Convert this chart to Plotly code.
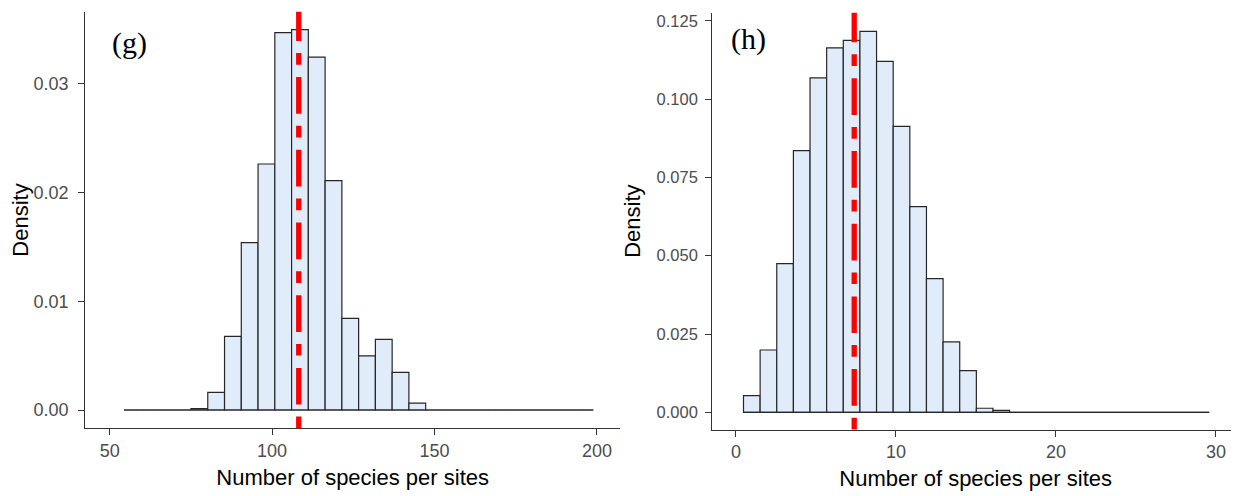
import plotly.graph_objects as go

# ---- data ----
g_bin_start = 54.4
g_bin_width = 5.16
g_density = [0, 0, 0, 0, 0.00012, 0.00163, 0.00678, 0.01539, 0.02263, 0.03471,
             0.03499, 0.03247, 0.0211, 0.00843, 0.00497, 0.0065, 0.00347, 0.00064,
             0, 0, 0, 0, 0, 0, 0, 0, 0, 0]
g_mean = 108.2

h_bin_start = 0.47
h_bin_width = 1.0396
h_density = [0.00532, 0.0199, 0.04747, 0.08355, 0.10675, 0.11633, 0.11877, 0.12165,
             0.11207, 0.09132, 0.06567, 0.04268, 0.02246, 0.0133, 0.0013, 0.0006,
             0, 0, 0, 0, 0, 0, 0, 0, 0, 0, 0, 0]
h_mean = 7.39

g_xticks = [50, 100, 150, 200]
g_yticks = [0, 0.01, 0.02, 0.03]
h_xticks = [0, 10, 20, 30]
h_yticks = [0, 0.025, 0.05, 0.075, 0.1, 0.125]

panel_labels = ["(g)", "(h)"]
x_title = "Number of species per sites"
y_title = "Density"

# ---- styles ----
FILL = "#E1ECFB"
EDGE = "#262626"
FONT = "Liberation Sans, Arial, sans-serif"
W, H = 1231, 488  # page adds an 8px body margin

fig = go.Figure()


def add_hist(start, width, dens, xa, ya):
    centers = [start + width * (i + 0.5) for i in range(len(dens))]
    fig.add_trace(go.Scatter(
        x=[start, start + width * len(dens)], y=[0, 0], mode="lines",
        line=dict(color=EDGE, width=1.2), xaxis=xa, yaxis=ya, hoverinfo="skip"))
    fig.add_trace(go.Bar(
        x=centers, y=dens, width=[width] * len(dens),
        marker=dict(color=FILL, line=dict(color=EDGE, width=1.2)),
        xaxis=xa, yaxis=ya))


add_hist(g_bin_start, g_bin_width, g_density, "x", "y")
add_hist(h_bin_start, h_bin_width, h_density, "x2", "y2")

dash = "11.7px,12px,36.7px,12.3px"
for xref, yref, xv in [("x", "y domain", g_mean), ("x2", "y2 domain", h_mean)]:
    fig.add_shape(type="line", xref=xref, yref=yref, x0=xv, x1=xv, y0=0, y1=1,
                  line=dict(color="red", width=5.3, dash=dash), layer="above")

axis_common = dict(showline=True, linecolor="#333333", linewidth=1.3,
                   ticks="outside", tickcolor="#333333", ticklen=6, tickwidth=1.2,
                   showgrid=False, zeroline=False, automargin=False,
                   tickfont=dict(family=FONT, size=18, color="#4D4D4D"))

title_font = dict(family=FONT, size=22, color="black")

fig.update_layout(
    width=W, height=H,
    margin=dict(l=0, r=0, t=0, b=0),
    paper_bgcolor="white", plot_bgcolor="white",
    showlegend=False, barmode="overlay",
    xaxis=dict(domain=[77.3 / W, 612 / W], range=[42.5, 207.1],
               tickvals=g_xticks, anchor="y",
               title=dict(text=x_title, font=title_font, standoff=9),
               **axis_common),
    yaxis=dict(domain=[1 - 420.3 / H, 1 - 3.7 / H], range=[-0.001684, 0.036642],
               tickvals=g_yticks, tickformat=".2f", anchor="x", ticklabelstandoff=6,
               title=dict(text=y_title, font=title_font, standoff=5),
               **axis_common),
    xaxis2=dict(domain=[704.3 / W, 1.0], range=[-1.48, 31.44],
                tickvals=h_xticks, anchor="y2",
                title=dict(text=x_title, font=title_font, standoff=9),
                **axis_common),
    yaxis2=dict(domain=[1 - 421.5 / H, 1 - 4.7 / H], range=[-0.00549, 0.12759],
                tickvals=h_yticks, tickformat=".3f", anchor="x2", ticklabelstandoff=4,
                title=dict(text=y_title, font=title_font, standoff=9),
                **axis_common),
)
fig.update_yaxes(tickfont=dict(size=16.5), selector=dict(anchor="x2"))

fig.add_annotation(text=panel_labels[0], xref="x domain", yref="y domain",
                   x=0.046, y=0.925, xanchor="left", yanchor="middle", showarrow=False,
                   font=dict(family="Liberation Serif, DejaVu Serif, serif", size=30, color="black"))
fig.add_annotation(text=panel_labels[1], xref="x2 domain", yref="y2 domain",
                   x=0.032, y=0.937, xanchor="left", yanchor="middle", showarrow=False,
                   font=dict(family="Liberation Serif, DejaVu Serif, serif", size=30, color="black"))

fig.write_html("out.html")
